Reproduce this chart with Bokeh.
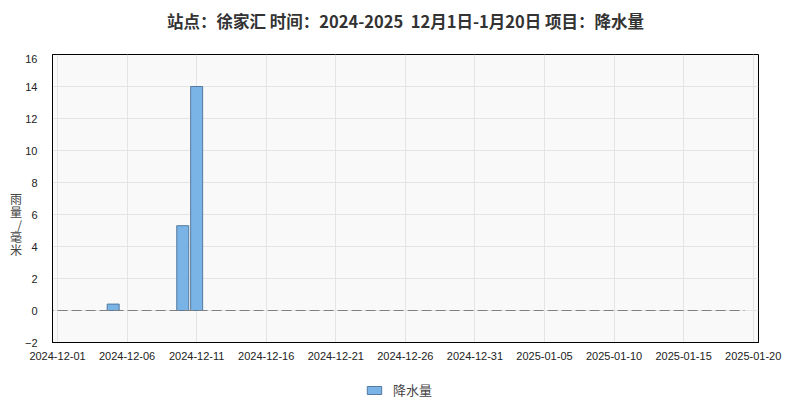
import pandas as pd
from bokeh.plotting import figure
from bokeh.layouts import column
from bokeh.models import Range1d, FixedTicker, DatetimeTickFormatter, Legend, LegendItem, ColumnDataSource
from bokeh.embed import file_html
from bokeh.resources import INLINE

title_text = "站点：徐家汇 时间：2024-2025 \u00a012月1日-1月20日 项目：降水量"
series_name = "降水量"
y_label = "雨\n量\n/\n毫\n米"

bar_dates = ["2024-12-05", "2024-12-10", "2024-12-11"]
bar_values = [0.4, 5.3, 14.0]

zero_line_dates = ["2024-11-30 00:00", "2025-01-19 09:00"]
zero_line_values = [0, 0]

x_tick_labels = ["2024-12-01", "2024-12-06", "2024-12-11", "2024-12-16", "2024-12-21",
                 "2024-12-26", "2024-12-31", "2025-01-05", "2025-01-10", "2025-01-15", "2025-01-20"]
y_ticks = [-2, 0, 2, 4, 6, 8, 10, 12, 14, 16]

x_start = pd.Timestamp("2024-11-30 15:20")
x_end = pd.Timestamp("2025-01-20 09:10")

FILL = "#7ab4e6"
EDGE = "#55799f"

def strip(h, xr, yr):
    f = figure(width=800, height=h, output_backend="svg", toolbar_location=None,
               x_range=xr, y_range=yr,
               min_border_left=52, min_border_right=42, min_border_top=0, min_border_bottom=0,
               outline_line_color=None)
    f.axis.visible = False
    f.grid.visible = False
    return f

# title strip
tf = strip(54, Range1d(0, 1), Range1d(0, 1))
tf.title.text = title_text
tf.title.align = "center"
tf.title.offset = -5
tf.title.text_font = "Noto Sans CJK SC"
tf.title.text_font_size = "16.5px"
tf.title.text_font_style = "bold"
tf.title.text_color = "#333333"
tf.title.standoff = 13

# main chart
p = figure(width=800, height=318, output_backend="svg", toolbar_location=None,
           x_axis_type="datetime",
           x_range=Range1d(x_start, x_end), y_range=Range1d(-2, 16),
           min_border_left=52, min_border_right=42, min_border_top=0, min_border_bottom=30)
p.title.visible = False
p.title.standoff = 0
p.title.text_font_size = "0px"

p.background_fill_color = "#f9f9f9"
p.border_fill_color = "white"
p.outline_line_color = "black"
p.outline_line_width = 1
p.outline_line_alpha = 1

src = ColumnDataSource(dict(x=pd.to_datetime(bar_dates), top=bar_values))
day_ms = 24 * 3600 * 1000
bars = p.vbar(x="x", top="top", bottom=0, width=0.86 * day_ms, source=src,
              fill_color=FILL, line_color=EDGE, line_width=1)

p.line([pd.Timestamp(d) for d in zero_line_dates], zero_line_values, line_color="#808080",
       line_width=1, line_dash="10 4")

tick_ms = [pd.Timestamp(d).value // 10**6 for d in x_tick_labels]
p.xaxis.ticker = FixedTicker(ticks=tick_ms)
p.xaxis.formatter = DatetimeTickFormatter(days="%Y-%m-%d", months="%Y-%m-%d", hours="%Y-%m-%d")
p.yaxis.ticker = FixedTicker(ticks=y_ticks)

for ax in (p.xaxis[0], p.yaxis[0]):
    ax.axis_line_color = "black"
    ax.major_tick_line_color = None
    ax.minor_tick_line_color = None
    ax.major_label_text_font = "Liberation Sans"
    ax.major_label_text_font_size = "11px"
    ax.major_label_text_color = "#222222"
p.xaxis.major_label_standoff = 3
p.yaxis.major_label_standoff = 9

p.yaxis.axis_label = "\n\n\n\n" + y_label
p.yaxis.axis_label_orientation = "horizontal"
p.yaxis.axis_label_text_font = "Noto Sans CJK SC"
p.yaxis.axis_label_text_font_size = "12px"
p.yaxis.axis_label_text_font_style = "normal"
p.yaxis.axis_label_text_color = "#444444"
p.yaxis.axis_label_text_line_height = 0.75
p.yaxis.axis_label_standoff = 0

p.xgrid.grid_line_color = "#e4e4e4"
p.ygrid.grid_line_color = "#e4e4e4"

# legend strip below the chart (same data source; its y range keeps the bars out of view)
lf = strip(33, Range1d(x_start, x_end), Range1d(100, 101))
proxy = lf.vbar(x="x", top="top", bottom=0, width=0.86 * day_ms, source=src,
                fill_color=FILL, line_color=EDGE)
legend = Legend(items=[LegendItem(label=series_name, renderers=[proxy])],
                orientation="horizontal", location=(313, 6),
                border_line_color=None, background_fill_alpha=0,
                label_text_font="Noto Sans CJK SC", label_text_font_size="13px",
                label_text_color="#444444", glyph_width=18, glyph_height=10,
                label_standoff=10, margin=0, padding=0)
lf.add_layout(legend)

layout = column(tf, p, lf, spacing=0)
open("out.html", "w").write(file_html(layout, INLINE))
